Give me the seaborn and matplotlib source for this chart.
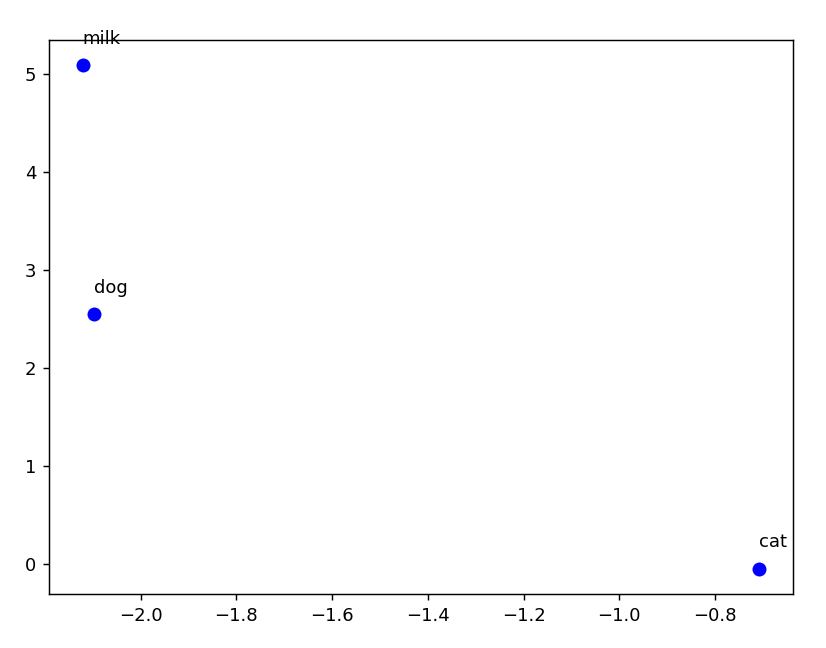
import matplotlib
matplotlib.use("Agg")
import matplotlib.pyplot as plt
import seaborn as sns

words = ["milk", "dog", "cat"]
xs = [-2.1206, -2.097, -0.708]
ys = [5.09, 2.55, -0.045]

fig, ax = plt.subplots(figsize=(826 / 130, 648 / 130), dpi=130)
fig.subplots_adjust(left=49 / 826, right=793 / 826, top=1 - 40 / 648, bottom=1 - 594 / 648)

sns.scatterplot(x=xs, y=ys, color="blue", s=60, linewidth=0, ax=ax)
for word, x, y in zip(words, xs, ys):
    ax.annotate(word, xy=(x, y), xytext=(0, 12), textcoords="offset points")

fig.savefig("out.png", dpi=130)
